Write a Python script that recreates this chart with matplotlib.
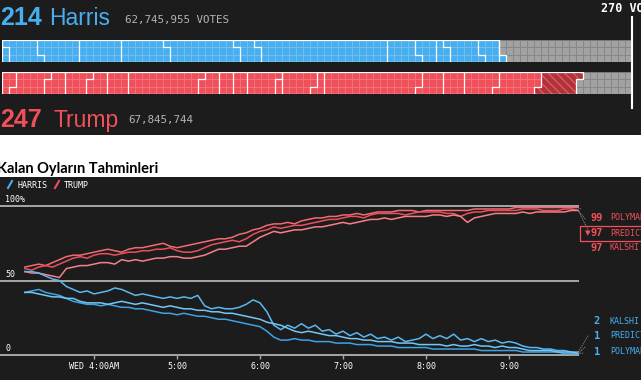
import numpy as np
import matplotlib.pyplot as plt
from matplotlib.patches import Rectangle
from matplotlib.lines import Line2D

W, H, DPI = 641, 380, 100

# ---- HEADER DATA ----
harris_ev, trump_ev = 214, 247
harris_votes = "62,745,955 VOTES"
trump_votes = "67,845,744"
to_win = 270
harris_blocks = [2, 14, 17, 18, 20, 30, 9, 55, 13, 8, 5, 14, 8, 1]
trump_blocks = [5, 14, 8, 10, 8, 9, 31, 8, 6, 6, 13, 2, 14, 4, 41, 10, 9, 14, 18]
trump_leaning = 17  # hatched part

# ---- MARKET ODDS (%), one value every 5 min from 3:10 AM ----
start_hour = 3 + 10 / 60
step_hour = 5 / 60
trump_poly = [59, 60, 61, 60, 62, 64, 66, 67, 67, 68,
              69, 70, 71, 70, 69, 71, 72, 72, 73, 74,
              75, 73, 72, 73, 74, 75, 76, 77, 78, 78,
              79, 81, 82, 84, 85, 87, 88, 88, 89, 88,
              90, 91, 92, 92, 93, 93, 94, 94, 95, 94,
              95, 96, 96, 96, 97, 97, 97, 96, 97, 97,
              97, 97, 97, 97, 97, 98, 98, 98, 98, 98,
              98, 99, 99, 99, 99, 99, 99, 99, 99, 99,
              99]
trump_predictit = [58, 57, 59, 60, 59, 61, 63, 65, 66, 65,
                   67, 68, 68, 67, 68, 69, 69, 70, 70, 71,
                   71, 72, 70, 69, 69, 70, 72, 74, 75, 76,
                   77, 76, 78, 81, 83, 84, 86, 85, 86, 87,
                   87, 88, 89, 90, 91, 91, 92, 93, 93, 92,
                   94, 95, 95, 95, 95, 94, 95, 96, 96, 96,
                   96, 95, 95, 93, 95, 96, 96, 97, 97, 97,
                   97, 97, 98, 98, 98, 97, 97, 97, 98, 98,
                   97]
trump_kalshi = [56, 55, 55, 54, 53, 52, 58, 59, 60, 60,
                61, 62, 62, 61, 64, 63, 64, 63, 64, 65,
                65, 66, 66, 65, 65, 66, 67, 69, 71, 71,
                72, 73, 73, 76, 79, 81, 83, 82, 83, 84,
                84, 85, 86, 86, 87, 88, 89, 88, 89, 90,
                91, 91, 92, 91, 92, 93, 93, 93, 93, 94,
                94, 93, 94, 93, 89, 92, 93, 94, 95, 95,
                95, 95, 96, 95, 96, 96, 96, 96, 96, 97,
                97]
harris_kalshi = [56, 56, 55, 53, 51, 50, 46, 44, 42, 43,
                 41, 42, 43, 45, 44, 42, 40, 41, 40, 39,
                 38, 39, 38, 39, 38, 40, 33, 31, 32, 31,
                 31, 32, 34, 37, 35, 29, 20, 17, 20, 18,
                 21, 18, 20, 16, 17, 14, 16, 13, 15, 12,
                 14, 11, 12, 10, 12, 9, 10, 11, 14, 11,
                 13, 11, 14, 10, 11, 9, 11, 9, 10, 8,
                 9, 8, 6, 5, 5, 4, 4, 3, 3, 2,
                 2]
harris_poly = [42, 43, 44, 42, 41, 40, 38, 36, 35, 34,
               34, 33, 34, 33, 32, 32, 31, 31, 30, 29,
               28, 28, 27, 28, 27, 26, 26, 25, 24, 24,
               23, 22, 21, 20, 19, 16, 12, 10, 10, 11,
               10, 10, 9, 9, 9, 8, 8, 8, 7, 7,
               7, 6, 6, 6, 5, 5, 5, 5, 5, 4,
               4, 4, 4, 4, 4, 4, 3, 3, 3, 3,
               3, 3, 2, 2, 2, 2, 2, 2, 1, 1,
               1]
harris_predictit = [42, 42, 41, 40, 39, 39, 38, 38, 36, 35,
                    35, 35, 34, 35, 36, 35, 34, 35, 34, 33,
                    32, 33, 32, 31, 31, 30, 30, 29, 29, 28,
                    28, 27, 26, 25, 24, 22, 21, 20, 18, 16,
                    15, 16, 15, 14, 13, 13, 12, 11, 11, 10,
                    10, 9, 9, 9, 8, 8, 8, 7, 7, 7,
                    7, 6, 7, 6, 6, 7, 6, 6, 5, 6,
                    5, 5, 4, 3, 3, 3, 3, 2, 2, 2,
                    1]

hour_ticks = [4, 5, 6, 7, 8, 9]
hour_labels = ["WED 4:00AM", "5:00", "6:00", "7:00", "8:00", "9:00"]

BG = "#1c1c1c"
BLUE = "#47aff0"
RED = "#f1505b"
GRAY = "#a2a2a2"
MONO = "DejaVu Sans Mono"

fig = plt.figure(figsize=(W / DPI, H / DPI), dpi=DPI, facecolor="white")


def rect(x0, y0, x1, y1):
    return [x0 / W, 1 - y1 / H, (x1 - x0) / W, (y1 - y0) / H]


def fpx(x, y):
    return x / W, 1 - y / H


def bare(ax):
    ax.set_xticks([])
    ax.set_yticks([])
    for s in ax.spines.values():
        s.set_visible(False)


# ---- HEADER ----
head = fig.add_axes(rect(0, 0, W, 135))
head.set_facecolor(BG)
bare(head)

fig.text(*fpx(0, 25), str(harris_ev), color=BLUE, fontsize=18, fontweight="bold",
         family="Liberation Sans", va="baseline")
fig.text(*fpx(49, 25), "Harris", color=BLUE, fontsize=16.5, family="Liberation Sans", va="baseline")
fig.text(*fpx(125, 23), harris_votes, color="#b4b4b4", fontsize=7.8, family=MONO, va="baseline")
fig.text(*fpx(0, 127), str(trump_ev), color=RED, fontsize=18, fontweight="bold",
         family="Liberation Sans", va="baseline")
fig.text(*fpx(54, 127), "Trump", color=RED, fontsize=16.5, family="Liberation Sans", va="baseline")
fig.text(*fpx(128, 123), trump_votes, color="#b4b4b4", fontsize=7.8, family=MONO, va="baseline")
fig.text(*fpx(601, 12), f"{to_win} VOTES TO WIN", color="white", fontsize=8.5, family=MONO,
         fontweight="bold", va="baseline")
fig.add_artist(Line2D([632 / W, 632 / W], [1 - 17 / H, 1 - 108 / H], color="white", lw=1.5))


def boundary(k, top_first):
    c, r = divmod(k, 3)
    if r == 0:
        return [c, c], [0, 3]
    if top_first:
        return [c + 1, c + 1, c, c], [3, 3 - r, 3 - r, 0]
    return [c + 1, c + 1, c, c], [0, r, r, 3]


def waffle(ax, blocks, color, light, top_first, leaning=0):
    ncol = to_win // 3
    ax.set_xlim(0, ncol)
    ax.set_ylim(0, 3)
    ax.axis("off")
    n_solid = sum(blocks)
    n_fill = n_solid + leaning
    for k in range(ncol * 3):
        c, r = divmod(k, 3)
        row = 2 - r if top_first else r
        if k < n_solid:
            ax.add_patch(Rectangle((c, row), 1, 1, facecolor=color, edgecolor=light, lw=0.5))
        elif k < n_fill:
            ax.add_patch(Rectangle((c, row), 1, 1, facecolor="#a9363d", edgecolor=color,
                                   lw=0, hatch="\\\\\\\\"))
        else:
            ax.add_patch(Rectangle((c, row), 1, 1, facecolor=GRAY, edgecolor="#858585", lw=0.5))
    edges = [0] + list(np.cumsum(blocks)) + ([n_fill] if leaning else [])
    for k in edges:
        xs, ys = boundary(int(k), top_first)
        ax.plot(xs, ys, color="white", lw=0.9, solid_capstyle="butt")
    # top and bottom edge of the filled area
    n_top = len([k for k in range(n_fill) if (2 - k % 3 if top_first else k % 3) == 2])
    n_bot = len([k for k in range(n_fill) if (2 - k % 3 if top_first else k % 3) == 0])
    ax.plot([0, n_top], [3, 3], color="white", lw=0.9)
    ax.plot([0, n_bot], [0, 0], color="white", lw=0.9)


ax_h = fig.add_axes(rect(2, 40, 632, 62))
waffle(ax_h, harris_blocks, BLUE, "#7cc6f4", top_first=False)
ax_t = fig.add_axes(rect(2, 72, 632, 94))
waffle(ax_t, trump_blocks, RED, "#f47d85", top_first=True, leaning=trump_leaning)

# ---- TITLE ----
fig.text(*fpx(-3, 173), "Kalan Oyların Tahminleri", color="black", fontsize=10.5,
         fontweight="bold", family="Lato", va="baseline")

# ---- MARKET CHART ----
ax = fig.add_axes(rect(0, 177, W, H))
ax.set_facecolor(BG)
bare(ax)
hr = 83.0
ax.set_xlim(3 - 11 / hr, 3 + (W - 11) / hr)
ax.set_ylim((355 - H) / 1.49, (355 - 177) / 1.49)

series = [
    (trump_poly, "#f26a72"), (trump_predictit, "#e9505b"), (trump_kalshi, "#f58088"),
    (harris_kalshi, "#5ab8f2"), (harris_poly, "#3da2e6"), (harris_predictit, "#74c6f5"),
]
t_end = start_hour
for vals, col in series:
    t = start_hour + step_hour * np.arange(len(vals))
    t_end = max(t_end, t[-1])
    ax.plot(t, vals, color=col, lw=1.1, zorder=3)

x0 = ax.get_xlim()[0]
ax.hlines([0, 50, 100], x0, t_end + 0.01, color="#a6a6a6", lw=1.4, zorder=2)
ax.vlines(hour_ticks, -2.5, 0, color="#a6a6a6", lw=1)
for h, lab in zip(hour_ticks, hour_labels):
    ax.text(h, -8, lab, color="white", fontsize=6, family=MONO, ha="center", va="center")
for v, lab in [(100, "100%"), (50, "50"), (0, "0")]:
    ax.text(x0 + 5 / hr, v + 1.2, lab, color="white", fontsize=6, family=MONO,
            ha="left", va="bottom")

# legend
for x, col, lab in [(8, BLUE, "HARRIS"), (55, RED, "TRUMP")]:
    fig.add_artist(Line2D([x / W, (x + 4) / W], [1 - 188 / H, 1 - 181 / H], color=col, lw=1.5))
    fig.text(*fpx(x + 9, 185), lab, color="white", fontsize=6, family=MONO, va="center")

# end labels
ends = [
    (trump_poly, RED, 218, "POLYMARKET"), (trump_predictit, RED, 233, "PREDICTIT"),
    (trump_kalshi, RED, 248, "KALSHI"),
    (harris_kalshi, BLUE, 321, "KALSHI"), (harris_predictit, BLUE, 336, "PREDICTIT"),
    (harris_poly, BLUE, 352, "POLYMARKET"),
]
for vals, col, ypx, name in ends:
    ax.annotate(f"{vals[-1]}", xy=(t_end, vals[-1]), xycoords="data",
                xytext=(597, H - ypx), textcoords="figure pixels",
                color=col, fontsize=7.5, family=MONO, fontweight="bold",
                ha="center", va="center", annotation_clip=False,
                arrowprops=dict(arrowstyle="-", linestyle=":", color="#888888", lw=0.6,
                                shrinkA=6, shrinkB=0))
    fig.text(*fpx(610, ypx), name, color=col, fontsize=6, family=MONO, va="center")

fig.text(*fpx(585, 233), "\u25bc", color=RED, fontsize=5, va="center")
fig.add_artist(Rectangle((580 / W, 1 - 241 / H), 70 / W, 15 / H, transform=fig.transFigure,
                         facecolor="none", edgecolor=RED, lw=0.9))

fig.savefig("out.png", dpi=DPI, facecolor="white")
